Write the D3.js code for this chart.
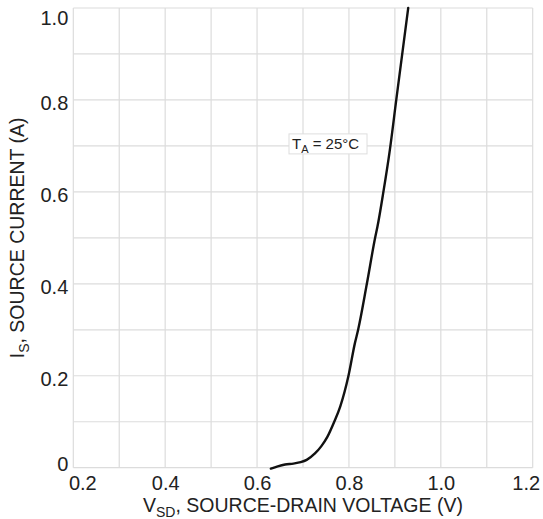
<!DOCTYPE html>
<html>
<head>
<meta charset="utf-8">
<script src="https://cdn.jsdelivr.net/npm/d3@7"></script>
<style>
  html, body { margin: 0; padding: 0; background: #fff; }
  svg text { font-family: "Liberation Sans", Arial, Helvetica, sans-serif; fill: #222; }
</style>
</head>
<body>
<svg id="chart" width="543" height="519"></svg>
<script>
// Source-drain diode forward characteristic, TA = 25°C
const vsd = [0.630, 0.645, 0.661, 0.679, 0.695, 0.708, 0.726, 0.740, 0.753, 0.768, 0.781,
             0.799, 0.813, 0.820, 0.839, 0.857, 0.862, 0.875, 0.889, 0.903, 0.929];
const is  = [-0.002, 0.003, 0.007, 0.009, 0.012, 0.017, 0.031, 0.047, 0.067, 0.100, 0.133,
             0.200, 0.271, 0.300, 0.400, 0.500, 0.524, 0.600, 0.691, 0.800, 1.000];

const xTicks = [0.2, 0.4, 0.6, 0.8, 1.0, 1.2];
const yTicks = [0, 0.2, 0.4, 0.6, 0.8, 1.0];
const xGrid = d3.range(0, 11).map(i => +(0.2 + i * 0.1).toFixed(1));
const yGrid = d3.range(0, 11).map(i => +(i * 0.1).toFixed(1));

const plot = { left: 73.3, right: 532.7, top: 8, bottom: 467.7 };

const svg = d3.select("#chart");
const x = d3.scaleLinear().domain([0.2, 1.2]).range([plot.left, plot.right]);
const y = d3.scaleLinear().domain([0, 1.0]).range([plot.bottom, plot.top]);

// grid
const grid = svg.append("g").attr("stroke", "#dcdcdc").attr("stroke-width", 1.2);
grid.selectAll("line.v").data(xGrid).join("line")
  .attr("class", "v")
  .attr("x1", d => x(d)).attr("x2", d => x(d))
  .attr("y1", plot.top).attr("y2", plot.bottom);
grid.selectAll("line.h").data(yGrid).join("line")
  .attr("class", "h")
  .attr("x1", plot.left).attr("x2", plot.right)
  .attr("y1", d => y(d)).attr("y2", d => y(d));

// x axis labels
const xAxis = d3.axisBottom(x).tickValues(xTicks).tickFormat(d3.format(".1f")).tickSize(0).tickPadding(0);
const gx = svg.append("g").attr("transform", `translate(0,${plot.bottom})`).call(xAxis);
gx.select(".domain").remove();
gx.selectAll("text")
  .attr("font-size", 20).attr("fill", "#222")
  .attr("y", 22.5).attr("dy", 0)
  .attr("dx", (d, i) => i === 0 ? 9 : (i === xTicks.length - 1 ? -7 : 0));

// y axis labels
const yAxis = d3.axisLeft(y).tickValues(yTicks)
  .tickFormat(d => d === 0 ? "0" : d3.format(".1f")(d)).tickSize(0).tickPadding(0);
const gy = svg.append("g").attr("transform", `translate(${plot.left - 5},0)`).call(yAxis);
gy.select(".domain").remove();
gy.selectAll("text")
  .attr("font-size", 20).attr("fill", "#222")
  .attr("x", 0)
  .attr("dy", (d, i) => i === 0 ? "0.12em" : (i === yTicks.length - 1 ? "0.8em" : "0.48em"));

// curve
const pts = vsd.map((v, i) => [v, is[i]]);
svg.append("path")
  .datum(pts)
  .attr("fill", "none")
  .attr("stroke", "#111")
  .attr("stroke-width", 2.4)
  .attr("stroke-linejoin", "round")
  .attr("stroke-linecap", "round")
  .attr("d", d3.line().x(d => x(d[0])).y(d => y(d[1])).curve(d3.curveMonotoneX));

// annotation
const ann = svg.append("g").attr("transform", `translate(${x(0.7) - 14},${y(0.7) - 12})`);
ann.append("rect").attr("x", 0).attr("y", 0).attr("width", 78).attr("height", 20)
  .attr("fill", "#fff").attr("stroke", "#dedede").attr("stroke-width", 1);
const annText = ann.append("text").attr("x", 3).attr("y", 15).attr("font-size", 15);
annText.append("tspan").text("T");
annText.append("tspan").attr("font-size", 11).attr("dy", 4).text("A");
annText.append("tspan").attr("dy", -4).text(" = 25°C");

// axis titles
const xt = svg.append("text")
  .attr("x", (plot.left + plot.right) / 2).attr("y", 512)
  .attr("text-anchor", "middle").attr("font-size", 19.5);
xt.append("tspan").text("V");
xt.append("tspan").attr("font-size", 14).attr("dy", 5).text("SD");
xt.append("tspan").attr("dy", -5).text(", SOURCE-DRAIN VOLTAGE (V)");

const yt = svg.append("text")
  .attr("transform", `translate(24,${(plot.top + plot.bottom) / 2}) rotate(-90)`)
  .attr("text-anchor", "middle").attr("font-size", 19.5);
yt.append("tspan").text("I");
yt.append("tspan").attr("font-size", 14).attr("dy", 5).text("S");
yt.append("tspan").attr("dy", -5).text(", SOURCE CURRENT (A)");
</script>
</body>
</html>
